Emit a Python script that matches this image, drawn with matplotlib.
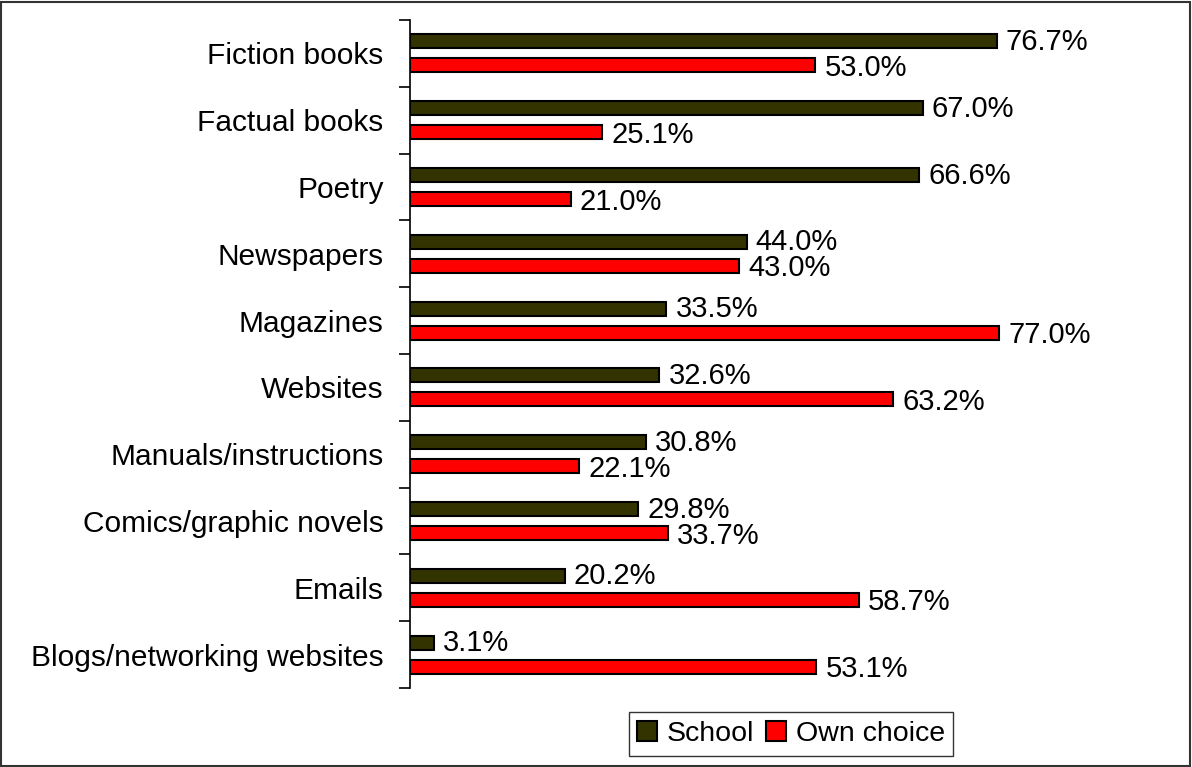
import matplotlib
matplotlib.use("Agg")
import matplotlib.pyplot as plt
import numpy as np
from matplotlib.patches import Rectangle

categories = ["Fiction books", "Factual books", "Poetry", "Newspapers", "Magazines",
              "Websites", "Manuals/instructions", "Comics/graphic novels", "Emails",
              "Blogs/networking websites"]
school = [76.7, 67.0, 66.6, 44.0, 33.5, 32.6, 30.8, 29.8, 20.2, 3.1]
own_choice = [53.0, 25.1, 21.0, 43.0, 77.0, 63.2, 22.1, 33.7, 58.7, 53.1]
series_names = ["School", "Own choice"]
colors = ["#333300", "#FF0000"]

plt.rcParams['font.family'] = ['Liberation Sans', 'DejaVu Sans']

fig = plt.figure(figsize=(11.92, 7.67), dpi=100)
ax = fig.add_axes([410/1192, 1-688/767, (1022-410)/1192, (688-20)/767])

n = len(categories)
y = np.arange(n)
h = 0.21
off = 0.18
ax.barh(y - off, school, height=h, color=colors[0], edgecolor="black", linewidth=1.5, label=series_names[0])
ax.barh(y + off, own_choice, height=h, color=colors[1], edgecolor="black", linewidth=1.5, label=series_names[1])

fs = 21.5
vfs = 21
for yi, v in zip(y, school):
    ax.text(v + 1.2, yi - off + 0.01, f"{v:.1f}%", va="center", ha="left", fontsize=vfs)
for yi, v in zip(y, own_choice):
    ax.text(v + 1.2, yi + off + 0.04, f"{v:.1f}%", va="center", ha="left", fontsize=vfs)

ax.set_xlim(0, 80)
ax.set_ylim(n - 0.5, -0.5)
ax.set_yticks(y)
ax.set_yticklabels(categories, fontsize=fs)
ax.tick_params(axis="y", which="major", length=0, pad=19)
ax.set_yticks(np.arange(-0.5, n, 1.0), minor=True)
ax.tick_params(axis="y", which="minor", length=8, width=1.2, color="black", direction="out")
ax.set_xticks([])
for s in ["top", "right", "bottom"]:
    ax.spines[s].set_visible(False)
ax.spines["left"].set_linewidth(1.2)

leg = fig.legend(loc="center", bbox_to_anchor=(791/1192, 1-734/767), ncol=2, fontsize=20.5,
                 frameon=True, fancybox=False, edgecolor="black", handlelength=0.7,
                 handleheight=0.7, handletextpad=0.35, columnspacing=0.4, borderpad=0.3,
                 borderaxespad=0)
leg.get_frame().set_linewidth(1.0)

fig.patches.append(Rectangle((0.001, 0.001), 0.997, 0.997, transform=fig.transFigure,
                             fill=False, edgecolor="#333333", linewidth=1.5))

fig.savefig("out.png", dpi=100)
